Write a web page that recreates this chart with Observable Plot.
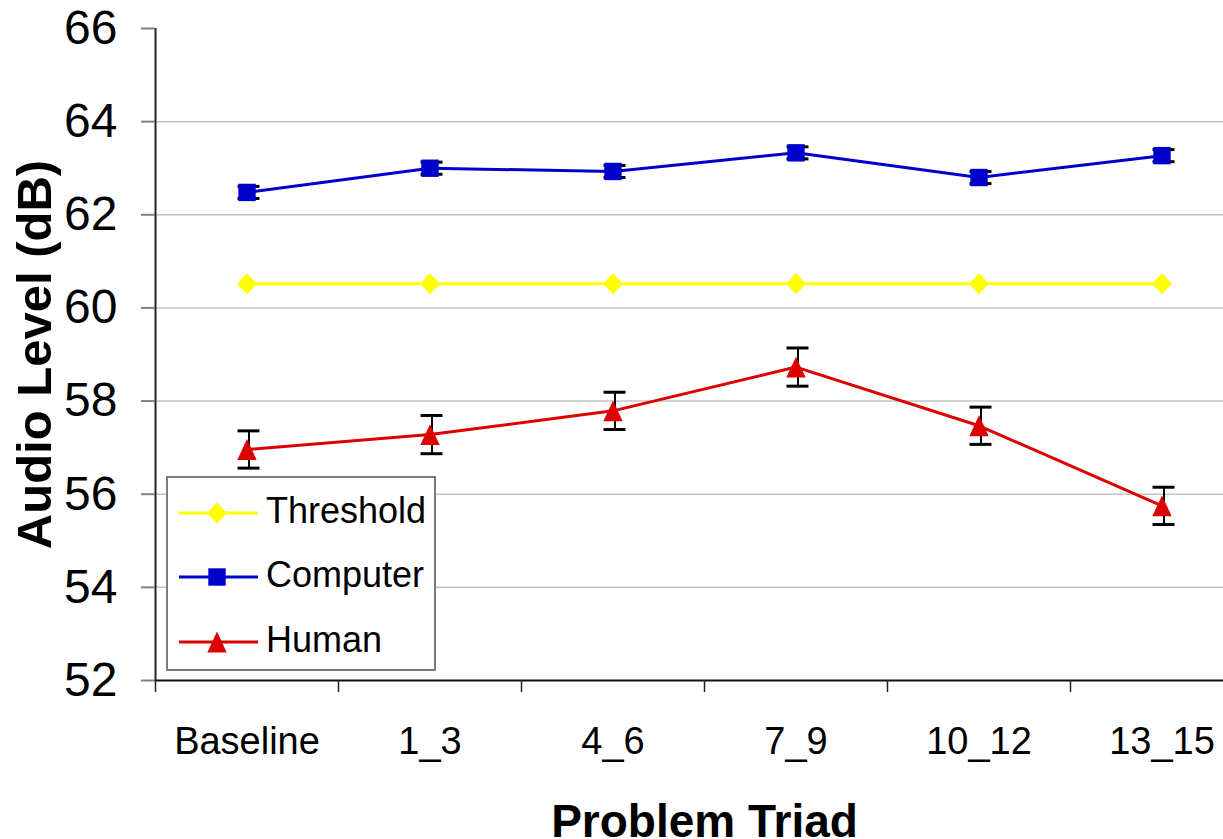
<!DOCTYPE html>
<html><head><meta charset="utf-8">
<script src="https://cdn.jsdelivr.net/npm/d3@7"></script>
<script src="https://cdn.jsdelivr.net/npm/@observablehq/plot@0.6"></script>
<style>
html,body{margin:0;padding:0;background:#fff;overflow:hidden;}
#wrap{position:relative;width:1223px;height:839px;overflow:hidden;}
#wrap > svg{overflow:hidden;display:block;}
#legend{position:absolute;left:166px;top:476px;width:266px;height:191px;border:2px solid #7a7a7a;background:#fff;}
#legend svg{display:block;}
</style></head><body>
<div id="wrap"></div>
<script>
// ---- data ----
const categories = ["Baseline", "1_3", "4_6", "7_9", "10_12", "13_15"];
const thresholdValues = [60.52, 60.52, 60.52, 60.52, 60.52, 60.52];
const computerValues = [62.48, 63.0, 62.93, 63.33, 62.8, 63.27];
const computerErrors = [0.13, 0.13, 0.13, 0.13, 0.13, 0.13];
const humanValues = [56.96, 57.28, 57.79, 58.73, 57.47, 55.75];
const humanErrors = [0.4, 0.41, 0.4, 0.41, 0.4, 0.4];
const seriesNames = ["Threshold", "Computer", "Human"];
const seriesColors = ["#ffff00", "#0000cc", "#dd0000"];
const yTicks = [52, 54, 56, 58, 60, 62, 64, 66];
const yGridTicks = [54, 56, 58, 60, 62, 64];
const yLabel = "Audio Level (dB)";
const xLabel = "Problem Triad";

// ---- symbols ----
const symDiamond = {draw(ctx, size) {const r = Math.sqrt(size / Math.PI); ctx.moveTo(0, -1.05 * r); ctx.lineTo(r, 0); ctx.lineTo(0, 1.05 * r); ctx.lineTo(-r, 0); ctx.closePath();}};
const symSquare = {draw(ctx, size) {const r = Math.sqrt(size / Math.PI); ctx.rect(-r, -r, 2 * r, 2 * r);}};
const symTriangle = {draw(ctx, size) {const r = Math.sqrt(size / Math.PI); ctx.moveTo(0, -1.04 * r); ctx.lineTo(0.97 * r, 1.04 * r); ctx.lineTo(-0.97 * r, 1.04 * r); ctx.closePath();}};
const seriesSymbols = [symDiamond, symSquare, symTriangle];
const seriesR = [10, 8.7, 10];

const seriesValues = [thresholdValues, computerValues, humanValues];
const seriesErrors = [null, computerErrors, humanErrors];

const rows = [];
seriesNames.forEach((s, k) => categories.forEach((c, i) => rows.push({series: s, k, i, cat: c, v: seriesValues[k][i], e: seriesErrors[k] ? seriesErrors[k][i] : 0})));
const errRows = rows.filter(d => d.e > 0);

const font = "'Liberation Sans', Arial, Helvetica, sans-serif";

const marks = [
  Plot.gridY(yGridTicks, {stroke: "#c4c4c4", strokeOpacity: 1, strokeWidth: 1.5}),
  // error bars
  Plot.ruleX(errRows, {x: "i", y1: d => d.v - d.e, y2: d => d.v + d.e, stroke: "black", strokeWidth: 2, dx: 2}),
  Plot.ruleY(errRows, {y: d => d.v + d.e, x1: d => d.i - 0.06, x2: d => d.i + 0.06, stroke: "black", strokeWidth: 3, dx: 2}),
  Plot.ruleY(errRows, {y: d => d.v - d.e, x1: d => d.i - 0.06, x2: d => d.i + 0.06, stroke: "black", strokeWidth: 3, dx: 2}),
];
seriesNames.forEach((s, k) => {
  const data = rows.filter(d => d.k === k);
  marks.push(Plot.line(data, {x: "i", y: "v", stroke: seriesColors[k], strokeWidth: 3}));
});
seriesNames.forEach((s, k) => {
  const data = rows.filter(d => d.k === k);
  marks.push(Plot.dot(data, {x: "i", y: "v", symbol: seriesSymbols[k], r: seriesR[k], fill: seriesColors[k], stroke: "none"}));
});
marks.push(
  Plot.ruleY([52], {stroke: "#111", strokeWidth: 2}),
  Plot.ruleX([-0.5], {y1: 66, y2: 52, stroke: "#222", strokeWidth: 2}),
  Plot.axisY(yTicks, {tickSize: 14, tickPadding: 24, fontSize: 48, stroke: "#808080", strokeWidth: 2, fill: "black", label: null}),
  Plot.axisX(d3.range(-0.5, 6, 1), {tickSize: 12, tickFormat: () => "", stroke: "#222", strokeWidth: 1.5, label: null}),
  Plot.axisX(d3.range(0, 6), {tickSize: 0, tickPadding: 47, fontSize: 38, fill: "black", tickFormat: i => categories[i], label: null}),
  Plot.text([yLabel], {frameAnchor: "left", textAnchor: "middle", rotate: -90, dx: -120, lineAnchor: "middle", fontSize: 49, fontWeight: "bold", fill: "black"}),
  Plot.text([xLabel], {frameAnchor: "bottom", textAnchor: "middle", lineAnchor: "bottom", dy: 156, fontSize: 46, fontWeight: "bold", fill: "black"})
);

const chart = Plot.plot({
  width: 1223, height: 839,
  marginLeft: 155, marginRight: -30, marginTop: 28, marginBottom: 159,
  x: {type: "linear", domain: [-0.5, 5.5], axis: null},
  y: {domain: [52, 66], axis: null},
  style: {fontFamily: font, background: "white", overflow: "hidden", color: "black"},
  marks
});
const wrap = document.getElementById("wrap");
wrap.appendChild(chart);

// ---- legend (inside plot, overlay) ----
const legend = document.createElement("div");
legend.id = "legend";
wrap.appendChild(legend);
const lsvg = d3.select(legend).append("svg").attr("width", 266).attr("height", 191).style("font-family", font);
const lineYs = [35, 99, 164];
seriesNames.forEach((s, k) => {
  const g = lsvg.append("g").attr("transform", `translate(0,${lineYs[k]})`);
  g.append("line").attr("x1", 11).attr("x2", 90).attr("y1", 0).attr("y2", 0).attr("stroke", seriesColors[k]).attr("stroke-width", 3);
  g.append("path").attr("transform", "translate(49,0)").attr("d", d3.symbol(seriesSymbols[k], Math.PI * seriesR[k] * seriesR[k])()).attr("fill", seriesColors[k]);
  g.append("text").attr("x", 98).attr("y", 10).attr("font-size", 36).attr("fill", "black").text(s);
});
</script>
</body></html>
